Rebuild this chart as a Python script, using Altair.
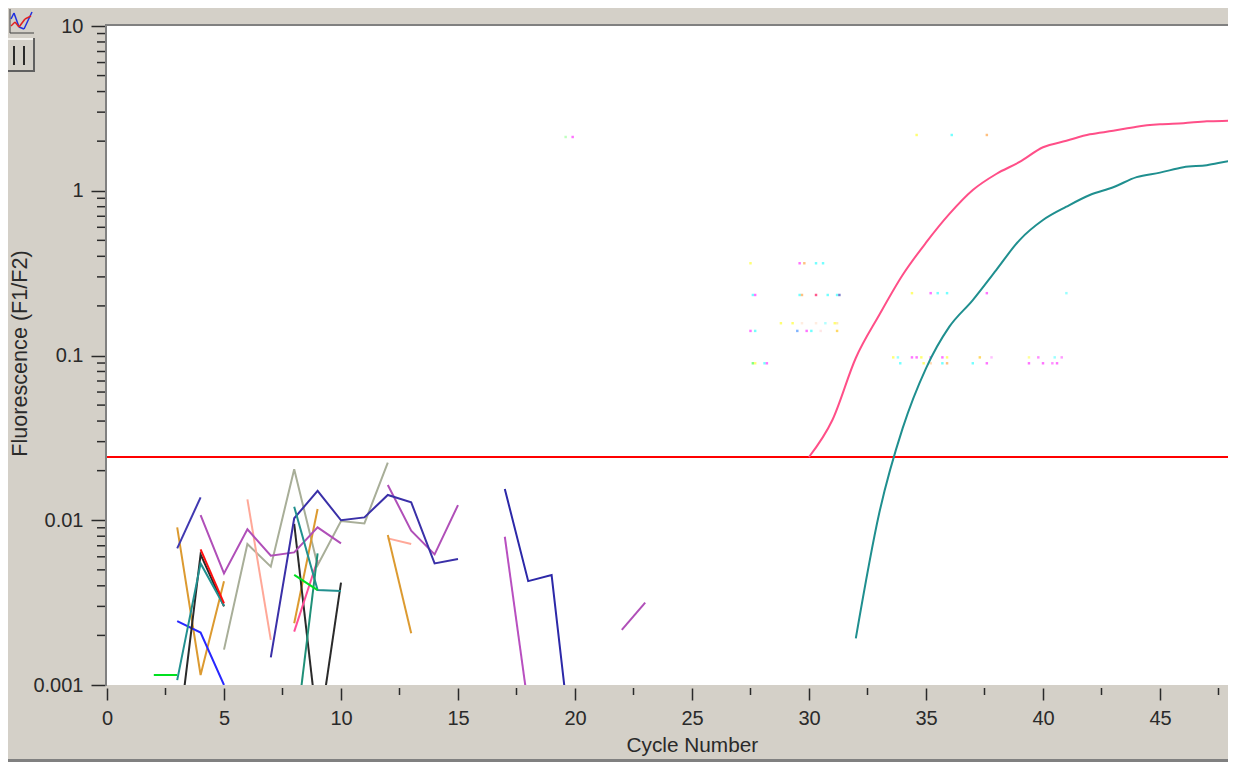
import altair as alt
import pandas as pd

# ---------- plate colours ----------
GRAY = "#d4d0c8"
EDGE = "#808080"
INK = "#2a2a2a"
FONT = "Liberation Sans"

# ---------- amplification curves ----------
pink_cycles = [30, 31, 32, 33, 34, 35, 36, 37, 38, 39, 40, 41, 42, 43, 44, 45, 46, 47, 48, 49]
pink_values = [0.0242, 0.0406, 0.0966, 0.176, 0.308, 0.484, 0.723, 1.01, 1.264, 1.495,
               1.836, 2.01, 2.20, 2.31, 2.45, 2.53, 2.57, 2.64, 2.66, 2.68]
teal_cycles = [32, 33, 34, 35, 36, 37, 38, 39, 40, 41, 42, 43, 44, 45, 46, 47, 48, 49]
teal_values = [0.00192, 0.01102, 0.0361, 0.0836, 0.1496, 0.217, 0.330, 0.502, 0.664, 0.80,
               0.942, 1.05, 1.21, 1.288, 1.388, 1.43, 1.517, 1.56]

# ---------- low-level noise fragments: (colour, first cycle, values) ----------
green_a = ("#00e020", 2, [0.00115, 0.00115])
navy_a = ("#4038b0", 3, [0.00675, 0.01377])
orange_a = ("#dc9a30", 3, [0.00906, 0.00115, 0.00427])
blue_a = ("#2828ff", 3, [0.00244, 0.00208, 0.00100])
black_a = ("#2a2a2a", 3, [0.000425, 0.00621, 0.00300])
teal_a = ("#22908f", 3, [0.00107, 0.00547, 0.00303])
red_a = ("#ff1010", 4, [0.00665, 0.00313])
purple_a = ("#b04fb8", 4, [0.01075, 0.00476, 0.00881, 0.00609, 0.00638, 0.00906, 0.00724])
sage_a = ("#a8ae98", 5, [0.00164, 0.00717, 0.00523, 0.0204, 0.00534, 0.00989, 0.00957, 0.0224])
salmon_a = ("#ffa898", 6, [0.0134, 0.00188])
navy_b = ("#3a30a8", 7, [0.00147, 0.01028, 0.01507, 0.0100, 0.01041, 0.01424, 0.01285, 0.00547, 0.00582])
black_b = ("#2a2a2a", 8, [0.0095, 0.00055])
orange_b = ("#dc9a30", 8, [0.00237, 0.0117])
pink_b = ("#ff4f98", 8, [0.00211, 0.00574])
teal_b = ("#22908f", 8, [0.01208, 0.00377, 0.00372])
green_b = ("#00e020", 8, [0.00466, 0.00377])
teal_c = ("#1f9078", 8, [0.00043, 0.00629])
black_c = ("#2a2a2a", 9, [0.00045, 0.00418])
salmon_b = ("#ffa898", 12, [0.00776, 0.00717])
orange_c = ("#dc9a30", 12, [0.00813, 0.00206])
purple_b = ("#b04fb8", 12, [0.01637, 0.00865, 0.00621, 0.01236])
purple_c = ("#b84fc0", 17, [0.00794, 0.00074])
navy_c = ("#2c28a8", 17, [0.01549, 0.00427, 0.00465, 0.00027])
purple_d = ("#b04fb8", 22, [0.00216, 0.00316])
fragments = [green_a, sage_a, salmon_a, salmon_b, orange_a, orange_b, orange_c, blue_a,
             black_a, black_b, black_c, teal_a, red_a, purple_a, purple_b, purple_c, purple_d,
             navy_a, navy_b, navy_c, pink_b, teal_b, teal_c, green_b]

threshold = [0.0242]

# ---------- stray coloured specks: (fluorescence, cycles, colours) ----------
speck_rows = [
    (2.12, [19.6, 19.9], ["#b0ffb0", "#ff50ff"]),
    (2.18, [34.6, 36.1, 37.6], ["#ffff50", "#50ffff", "#ffb060"]),
    (0.363, [27.5, 29.6, 29.8, 30.3, 30.6], ["#ffff50", "#ff50ff", "#ffb060", "#50ffff", "#50ffff"]),
    (0.233, [27.6, 27.7, 29.6, 29.7, 30.3, 30.8, 31.2, 31.3],
     ["#50ffff", "#ff50ff", "#50ffff", "#ffb060", "#ff3070", "#50ffff", "#50ffff", "#6060c0"]),
    (0.157, [28.8, 29.3, 29.7, 30.3, 30.7, 31.1, 31.2],
     ["#ffff50", "#ffff50", "#ffe8d8", "#ffe8d8", "#a0ffff", "#ffff50", "#ffe8a0"]),
    (0.141, [27.5, 27.7, 29.5, 29.9, 30.1, 30.5, 31.2],
     ["#ff50ff", "#50ffff", "#60a0ff", "#ff50ff", "#50ffff", "#ffe0e0", "#ffd040"]),
    (0.0897, [27.6, 27.7, 28.1, 28.2], ["#60ff60", "#ffff50", "#50ffff", "#ff50ff"]),
    (0.239, [34.4, 35.2, 35.5, 35.9, 37.6, 41.0],
     ["#ffff50", "#ff50ff", "#50ffff", "#50ffff", "#ff50ff", "#80ffff"]),
    (0.0974, [33.6, 33.8, 34.4, 34.6, 34.8, 35.2, 35.7, 35.9, 37.3, 37.8, 39.4, 39.8, 40.5, 40.8],
     ["#ffff50", "#80ffff", "#ff50ff", "#ff50ff", "#ffff50", "#ff50ff", "#ff50ff", "#ffff50",
      "#ffd040", "#ffb0ff", "#ffff80", "#ff70ff", "#80ffff", "#ff80ff"]),
    (0.0897, [33.9, 34.9, 35.2, 35.7, 35.9, 37.0, 37.6, 39.4, 40.0, 40.4, 40.6],
     ["#50ffff", "#ffff50", "#ffd0a0", "#50ffff", "#ffb060", "#50ffff", "#ff50ff", "#ff50ff",
      "#ff50ff", "#ff70ff", "#ff50ff"]),
]

# ---------- axis values ----------
x_major = [0, 5, 10, 15, 20, 25, 30, 35, 40, 45]
x_minor = [2.5, 7.5, 12.5, 17.5, 22.5, 27.5, 32.5, 37.5, 42.5, 47.5]
y_major = [0.001, 0.01, 0.1, 1, 10]
y_minor = [m * d for d in (0.001, 0.01, 0.1, 1) for m in (2, 3, 4, 5, 6, 7, 8, 9)]

# ---------- tables ----------
rows = []
for i, (c, start, vals) in enumerate(fragments):
    for j, v in enumerate(vals):
        rows.append({"s": f"n{i:02d}", "cycle": start + j, "v": v, "c": c})
noise_df = pd.DataFrame(rows)
rows = []
for cyc, v in zip(pink_cycles, pink_values):
    rows.append({"s": "z1", "cycle": cyc, "v": v, "c": "#ff4f88"})
for cyc, v in zip(teal_cycles, teal_values):
    rows.append({"s": "z2", "cycle": cyc, "v": v, "c": "#1f8f8f"})
curves_df = pd.DataFrame(rows)
specks_df = pd.DataFrame(
    [{"cycle": x, "v": v, "c": c} for v, xs, cs in speck_rows for x, c in zip(xs, cs)]
)

W, H = 1121, 659
x_scale = alt.Scale(type="linear", domain=[0, W / 23.4], nice=False, zero=False)
y_scale = alt.Scale(type="log", base=10, domain=[0.001, 10], nice=False)
ONE = pd.DataFrame({"a": [0]})


def px_rect(x1, y1, x2, y2, color):
    """Window furniture, given in page pixels (plot origin is at 107, 26)."""
    return alt.Chart(ONE).mark_rect(color=color).encode(
        x=alt.value(x1 - 107), x2=alt.value(x2 - 107),
        y=alt.value(y1 - 26), y2=alt.value(y2 - 26),
    )


def px_rule(x1, y1, x2, y2, color, w=1.5):
    return alt.Chart(ONE).mark_rule(color=color, strokeWidth=w).encode(
        x=alt.value(x1 - 107), x2=alt.value(x2 - 107),
        y=alt.value(y1 - 26), y2=alt.value(y2 - 26),
    )


furniture = [
    px_rect(8, 759, 1228, 762, EDGE),            # bottom edge
    px_rect(105, 24, 1228, 26, EDGE),            # plot top edge
    px_rect(105, 24, 107, 686, EDGE),            # plot left edge
    # trace-style button
    px_rule(10, 9, 10, 33, "#404040", 1),
    px_rule(10, 33, 34, 33, "#404040", 1),
    px_rule(11, 19, 14, 13, "#2030e0"), px_rule(14, 13, 19, 27, "#2030e0"),
    px_rule(19, 27, 24, 29, "#2030e0"), px_rule(24, 29, 32, 12, "#2030e0"),
    px_rule(11, 26, 15, 22, "#e02020"), px_rule(15, 22, 19, 27, "#e02020"),
    px_rule(19, 27, 25, 19, "#e02020"), px_rule(25, 19, 31, 16, "#e02020"),
    # pause button
    px_rect(8, 38, 34, 40, "#f4f2ee"),
    px_rect(8, 70, 35, 72, "#606060"),
    px_rect(33, 38, 35, 72, "#606060"),
    px_rect(13, 46, 15, 65, "#2a2a2a"),
    px_rect(23, 46, 25, 65, "#2a2a2a"),
]

x_enc = alt.X(
    "cycle:Q", scale=x_scale,
    axis=alt.Axis(
        values=x_major, title="Cycle Number", grid=False, domain=False, offset=3,
        tickSize=12, tickWidth=1.5, tickColor=INK, labelColor=INK, labelFont=FONT,
        labelFontSize=20, labelPadding=8, labelFlush=False, labelOverlap=False,
        titleFont=FONT, titleFontSize=20.8, titleFontWeight="normal", titleColor=INK,
        titleAnchor="start", titleX=519, titleY=57, titleBaseline="middle",
    ),
)
y_enc = alt.Y(
    "v:Q", scale=y_scale,
    axis=alt.Axis(
        values=y_major, title="Fluorescence (F1/F2)", grid=False, domain=False, offset=2,
        tickSize=14, tickWidth=1.5, tickColor=INK, labelColor=INK, labelFont=FONT,
        labelFontSize=20, labelPadding=8, labelFlush=False, labelOverlap=False,
        labelExpr="'' + datum.value",
        titleFont=FONT, titleFontSize=21.6, titleFontWeight="normal", titleColor=INK,
        titleAnchor="middle", titleX=-85, titleY=327, titleBaseline="middle",
    ),
)

specks = alt.Chart(specks_df).mark_square(size=6, opacity=0.8).encode(
    x=x_enc, y=y_enc, color=alt.Color("c:N", scale=None)
)

thresh = alt.Chart(pd.DataFrame({"v": threshold})).mark_rule(color="#ff0000", strokeWidth=2).encode(
    y=y_enc
)

noise = alt.Chart(noise_df).mark_line(strokeWidth=2, clip=True, interpolate="linear").encode(
    x=x_enc,
    y=y_enc,
    detail="s:N",
    order="cycle:Q",
    color=alt.Color("c:N", scale=None),
)

curves = alt.Chart(curves_df).mark_line(strokeWidth=2, clip=True, interpolate="monotone").encode(
    x=x_enc,
    y=y_enc,
    detail="s:N",
    order="cycle:Q",
    color=alt.Color("c:N", scale=None),
)

x_minor_ticks = alt.Chart(pd.DataFrame({"cycle": x_minor})).mark_rule(
    color=INK, strokeWidth=1.5, clip=False
).encode(x=x_enc, y=alt.value(662), y2=alt.value(669))

y_minor_ticks = alt.Chart(pd.DataFrame({"v": y_minor})).mark_rule(
    color=INK, strokeWidth=1.5
).encode(y=y_enc, x=alt.value(-10), x2=alt.value(-2))

chart = alt.layer(
    *furniture, specks, thresh, noise, curves, x_minor_ticks, y_minor_ticks
).properties(
    width=W, height=H,
    background=GRAY,
    padding={"left": 99, "top": 18, "right": 0, "bottom": 77},
    autosize=alt.AutoSizeParams(type="none"),
).configure_view(fill="white", stroke=None)

chart.save("out.html", embed_options={"renderer": "svg", "actions": False})
